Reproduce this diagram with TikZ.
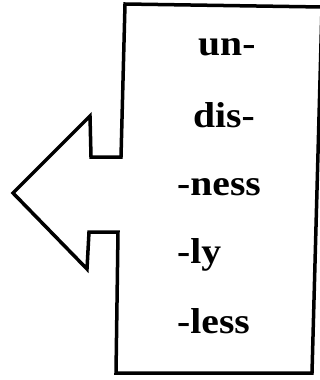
\documentclass[tikz,border=0pt]{standalone}
\usepackage{fontspec}
\setmainfont{Liberation Serif}
\begin{document}
\begin{tikzpicture}[x=1pt,y=-1pt,
  outline/.style={draw=black,line width=3.5pt,line join=miter},
  affix/.style={anchor=base west,inner sep=0pt,font=\fontsize{36}{42}\selectfont\bfseries,xscale=1.1}]
\useasboundingbox (0,0) rectangle (320,380);
\coordinate (tl) at (125,4);
\coordinate (tr) at (322,7);
\coordinate (br) at (312,373);
\coordinate (bl) at (116,373);
\coordinate (ln1) at (118,232);
\coordinate (ln2) at (89,232);
\coordinate (ln3) at (87,269);
\coordinate (tip) at (13,193);
\coordinate (un1) at (90,116);
\coordinate (un2) at (91,157);
\coordinate (un3) at (121,157);
\draw[outline] (tl) -- (tr) -- (br) -- (bl) -- (ln1) -- (ln2) -- (ln3) -- (tip) -- (un1) -- (un2) -- (un3) -- cycle;
\node[affix] (a1) at (198,55) {un-};
\node[affix] (a2) at (193,127) {dis-};
\node[affix] (a3) at (177,195) {-ness};
\node[affix] (a4) at (177,263) {-ly};
\node[affix] (a5) at (177,333) {-less};
\end{tikzpicture}
\end{document}
